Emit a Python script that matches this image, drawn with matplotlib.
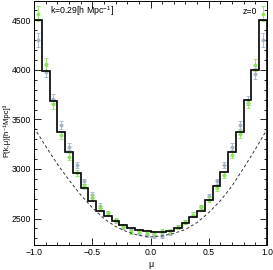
import numpy as np
import matplotlib
matplotlib.use("Agg")
import matplotlib.pyplot as plt
from matplotlib.ticker import MultipleLocator

# ---- data ----
n_bins = 30
mu_edges = np.linspace(-1.0, 1.0, n_bins + 1)
mu_centers = 0.5 * (mu_edges[:-1] + mu_edges[1:])

pk_step = [4500, 3990, 3690, 3375, 3170, 2955, 2810, 2680, 2580, 2525,
           2475, 2435, 2405, 2380, 2370, 2365, 2365, 2370, 2405, 2455,
           2520, 2575, 2690, 2825, 2965, 3175, 3375, 3695, 3995, 4500]

pk_green = [4566, 4057, 3655, 3343, 3125, 2958, 2824, 2707, 2607, 2556,
            2490, 2420, 2362, 2372, 2362, 2355, 2372, 2370, 2415, 2462,
            2539, 2617, 2690, 2807, 2941, 3142, 3353, 3662, 4047, 4566]
err_green = [75, 60, 45, 40, 35, 30, 28, 26, 24, 22,
             20, 20, 20, 20, 20, 20, 20, 20, 20, 20,
             22, 24, 26, 28, 30, 35, 40, 45, 60, 75]

pk_blue = [4298, 3980, 3708, 3444, 3226, 3042, 2874, 2740, 2630, 2556,
           2472, 2415, 2389, 2355, 2338, 2321, 2328, 2355, 2415, 2462,
           2539, 2617, 2723, 2874, 3042, 3226, 3444, 3695, 3963, 4298]
err_blue = [70, 55, 45, 40, 35, 30, 28, 26, 24, 22,
            20, 20, 20, 20, 20, 20, 20, 20, 20, 20,
            22, 24, 26, 28, 30, 35, 40, 45, 55, 70]

mu_curve = [-1.0, -0.9, -0.8, -0.7, -0.6, -0.5, -0.4, -0.3, -0.2, -0.1, 0.0,
            0.1, 0.2, 0.3, 0.4, 0.5, 0.6, 0.7, 0.8, 0.9, 1.0]
pk_curve = [3420, 3230, 3050, 2890, 2740, 2610, 2500, 2420, 2365, 2330, 2315,
            2325, 2350, 2390, 2460, 2560, 2680, 2830, 3010, 3200, 3400]

x_ticks = [-1.0, -0.5, 0.0, 0.5, 1.0]
x_ticklabels = ['\u22121.0', '\u22120.5', '0.0', '0.5', '1.0']

# ---- figure ----
plt.rcParams['font.family'] = ['Liberation Sans', 'DejaVu Sans']
plt.rcParams['mathtext.fontset'] = 'custom'
plt.rcParams['mathtext.rm'] = 'Liberation Sans'
plt.rcParams['mathtext.it'] = 'Liberation Sans'
fig = plt.figure(figsize=(2.73, 2.70), dpi=100)
ax = fig.add_axes([34 / 273, 1 - 245 / 270, 233 / 273, 245 / 270 - 0.002])

ax.errorbar(mu_centers, pk_blue, yerr=err_blue, fmt='D', ms=1.6,
            color='#a2b6c6', ecolor='#a2b6c6', elinewidth=0.6,
            capsize=1.5, capthick=0.6, zorder=2)
ax.errorbar(mu_centers, pk_green, yerr=err_green, fmt='D', ms=1.6,
            color='#8ee35c', ecolor='#8ee35c', elinewidth=0.6,
            capsize=1.5, capthick=0.6, zorder=3)

ax.stairs(pk_step, mu_edges, color='black', linewidth=1.2, zorder=4)
ax.plot(mu_curve, pk_curve, color='#333333', linestyle=(0, (3, 2.5)),
        linewidth=0.7, zorder=4)

ax.set_xlim(-1.0, 1.0)
ax.set_ylim(2233, 4700)
ax.yaxis.set_major_locator(MultipleLocator(500))
ax.yaxis.set_minor_locator(MultipleLocator(100))
ax.xaxis.set_minor_locator(MultipleLocator(0.1))
ax.set_xticks(x_ticks)
ax.set_xticklabels(x_ticklabels)
ax.tick_params(which='both', direction='in', top=True, right=True,
               labelsize=6.2, width=0.6, pad=2.5)
ax.tick_params(axis='y', which='both', pad=2)
ax.tick_params(which='major', length=5)
ax.tick_params(which='minor', length=2.5)
for s in ax.spines.values():
    s.set_linewidth(0.7)

ax.set_xlabel('\u03bc', fontsize=6.5, labelpad=2)
ax.set_ylabel('P(k,\u03bc)[h\u207b\u00b9Mpc]\u00b3', fontsize=5.6,
              family=['Liberation Sans', 'DejaVu Sans'])
ax.yaxis.set_label_coords(-0.1, 0.47)

ax.text(0.07, 0.955, 'k=0.29[h Mpc$^{-1}$]', transform=ax.transAxes,
        fontsize=6.3, ha='left', va='center')
ax.text(0.955, 0.955, 'z=0', transform=ax.transAxes,
        fontsize=6.3, ha='right', va='center')

fig.savefig('out.png', dpi=100)
